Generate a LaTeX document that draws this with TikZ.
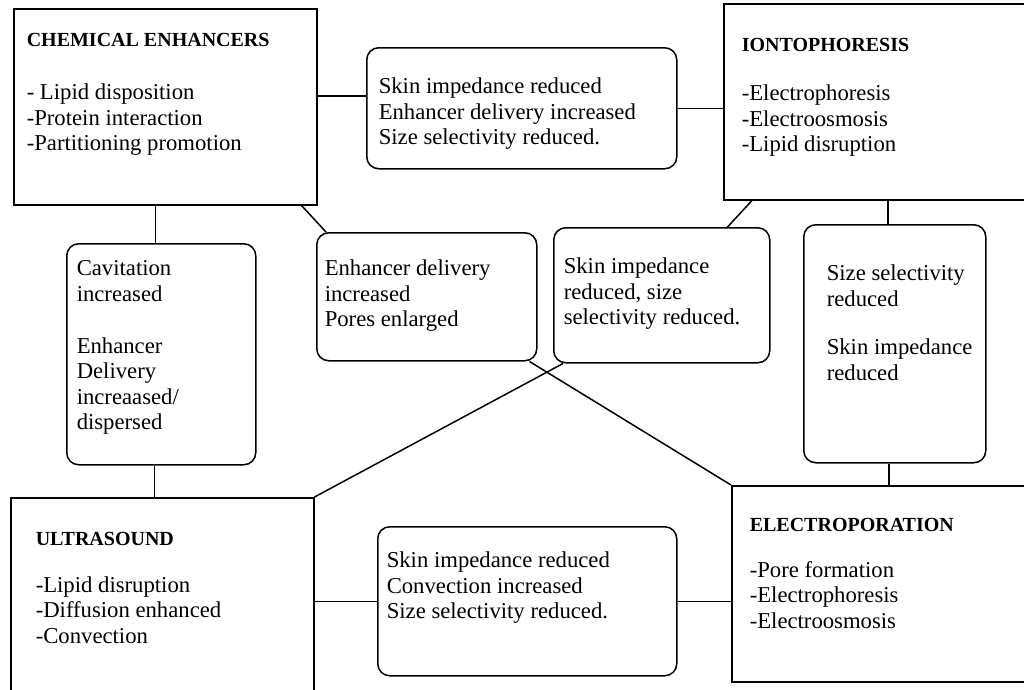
\documentclass[tikz,border=0pt]{standalone}
\usepackage{fontspec}
\setmainfont{Liberation Serif}
\newcommand{\headtext}[1]{{\fontsize{20}{25.5}\selectfont\bfseries #1}}

\begin{document}
\begin{tikzpicture}[x=1pt, y=-1pt, line width=1.5pt,
    every node/.style={font=\fontsize{22.7}{25.5}\selectfont},
    method/.style={draw, rectangle, anchor=north west, inner sep=0pt},
    effect/.style={method, rounded corners=12pt},
    label/.style={anchor=north west, align=left, inner sep=0pt, execute at begin node=\strut}]
                \useasboundingbox (0,0) rectangle (1024,689);
                \clip (0,0) rectangle (1024,689);

                \node[method, minimum width=303pt, minimum height=196pt] (ce) at (13,8) {};
                \node[effect, minimum width=310pt, minimum height=121pt] (t1) at (366,47) {};
                \node[method, minimum width=320pt, minimum height=196pt] (ionto) at (723,3) {};
                \node[effect, minimum width=189pt, minimum height=221pt] (c1) at (66,243) {};
                \node[effect, minimum width=220pt, minimum height=128pt] (c2) at (316,232) {};
                \node[effect, minimum width=216pt, minimum height=135pt] (c3) at (553,227) {};
                \node[effect, minimum width=182pt, minimum height=238pt] (c4) at (803,224) {};
                \node[method, minimum width=303pt, minimum height=230pt] (us) at (10,497) {};
                \node[effect, minimum width=299pt, minimum height=149pt] (b1) at (377,526) {};
                \node[method, minimum width=320pt, minimum height=196pt] (ep) at (731,485) {};

                \node[label] (ce-text) at ([shift={(13,25)}]ce.north west)
                    {\headtext{CHEMICAL ENHANCERS}\\[27.5pt]- Lipid disposition\\-Protein interaction\\-Partitioning promotion};
                \node[label] (t1-text) at ([shift={(12,30)}]t1.north west)
                    {Skin impedance reduced\\Enhancer delivery increased\\Size selectivity reduced.};
                \node[label] (ionto-text) at ([shift={(18,35)}]ionto.north west)
                    {\headtext{IONTOPHORESIS}\\[23.5pt]-Electrophoresis\\-Electroosmosis\\-Lipid disruption};
                \node[label] (c1-text) at ([shift={(10,17)}]c1.north west)
                    {Cavitation\\increased\\[26.5pt]Enhancer\\Delivery\\increaased/\\dispersed};
                \node[label] (c2-text) at ([shift={(8,27)}]c2.north west)
                    {Enhancer delivery\\increased\\Pores enlarged};
                \node[label] (c3-text) at ([shift={(10,30)}]c3.north west)
                    {Skin impedance\\reduced, size\\selectivity reduced.};
                \node[label] (c4-text) at ([shift={(23,40)}]c4.north west)
                    {Size selectivity\\reduced\\[23pt]Skin impedance\\reduced};
                \node[label] (us-text) at ([shift={(25,34)}]us.north west)
                    {\headtext{ULTRASOUND}\\[21.5pt]-Lipid disruption\\-Diffusion enhanced\\-Convection};
                \node[label] (b1-text) at ([shift={(9,25)}]b1.north west)
                    {Skin impedance reduced\\Convection increased\\Size selectivity reduced.};
                \node[label] (ep-text) at ([shift={(18,32)}]ep.north west)
                    {\headtext{ELECTROPORATION}\\[20.5pt]-Pore formation\\-Electrophoresis\\-Electroosmosis};

                \draw ([yshift=11pt]ce.east) -- ([yshift=11pt]ce.east -| t1.west);
                \draw (t1.east) -- (t1.east -| ionto.west);
                \draw ([xshift=-6pt]c1.north) -- ([xshift=-6pt]c1.north |- ce.south);
                \draw ([xshift=-7pt]c1.south) -- ([xshift=-7pt]c1.south |- us.north);
                \draw ([xshift=-16pt]ce.south east) -- ([xshift=10pt]c2.north west);
                \draw ([xshift=29pt]ionto.south west) -- ([xshift=-43pt]c3.north east);
                \draw ([xshift=-7pt]c4.north) -- ([xshift=-7pt]c4.north |- ionto.south);
                \draw ([xshift=-6pt]c4.south) -- ([xshift=-6pt]c4.south |- ep.north);
                \draw (us.north east) -- ([xshift=10pt]c3.south west);
                \draw ([xshift=-8pt]c2.south east) -- (ep.north west);
                \draw (b1.west -| us.east) -- (b1.west);
                \draw (b1.east) -- (b1.east -| ep.west);
            \end{tikzpicture}
\end{document}
